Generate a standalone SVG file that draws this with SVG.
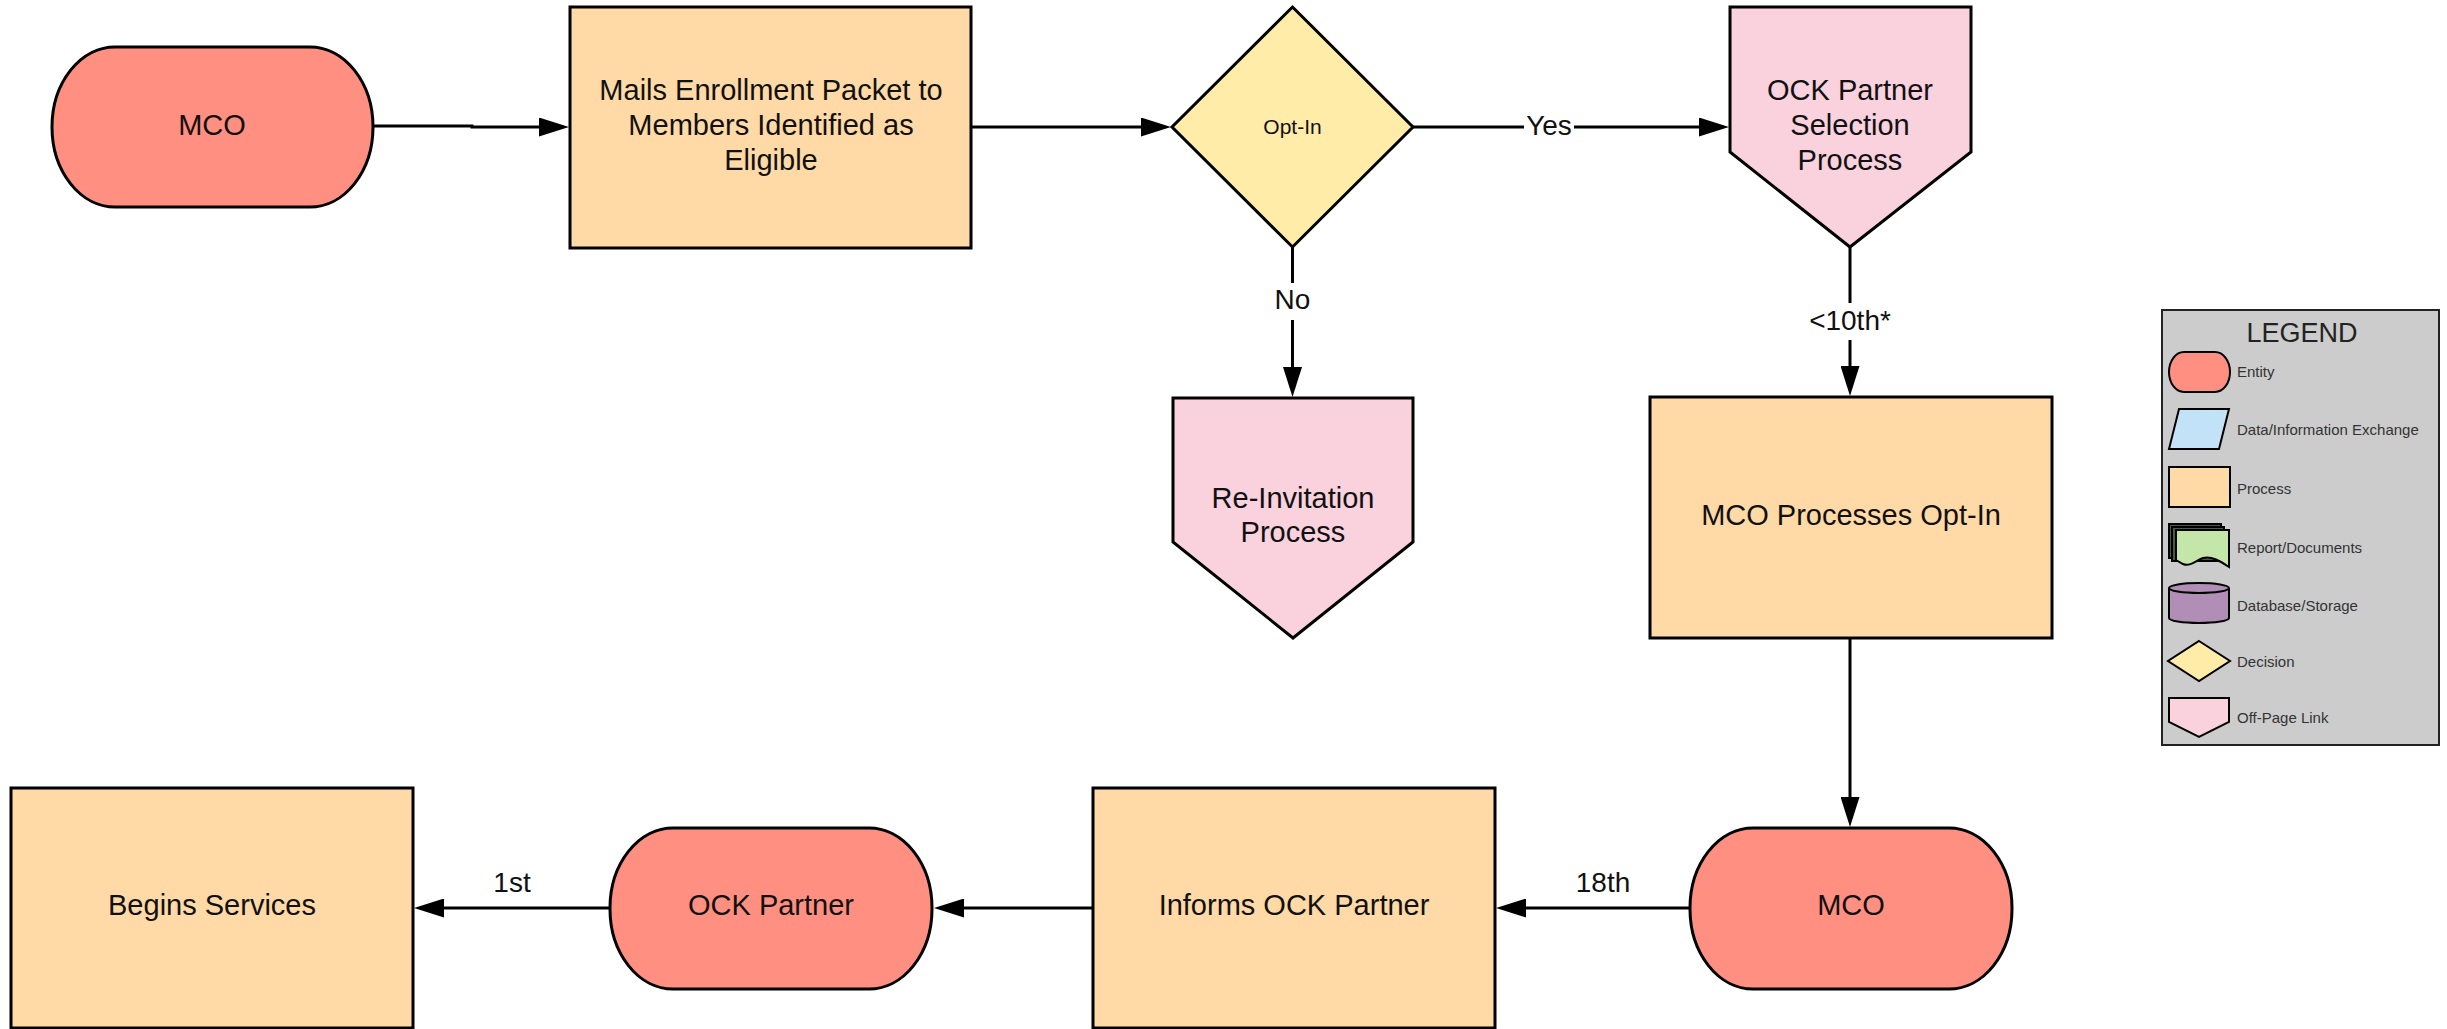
<svg xmlns="http://www.w3.org/2000/svg" width="2447" height="1029" viewBox="0 0 2447 1029">
  <style>
    .shape { stroke: #000; stroke-width: 3; stroke-linejoin: miter; }
    .entity { fill: #ff8f80; }
    .process { fill: #ffd9a6; }
    .decision { fill: #ffeca9; }
    .offpage { fill: #f9d2de; }
    .txt { font-family: "Liberation Sans", Arial, sans-serif; font-size: 29px; fill: #111; text-anchor: middle; dominant-baseline: central; }
    .lbl { font-family: "Liberation Sans", Arial, sans-serif; font-size: 28px; fill: #111; text-anchor: middle; dominant-baseline: central; }
    .small { font-size: 21px; }
    .conn { fill: none; stroke: #000; stroke-width: 3; }
    .lbg { fill: #fff; }
    .lgshape { stroke: #000; stroke-width: 2; }
    .lgtxt { font-family: "Liberation Sans", Arial, sans-serif; font-size: 15px; fill: #333; dominant-baseline: central; }
  </style>
  <defs>
    <marker id="arrow" viewBox="0 0 30 19" refX="1" refY="9.5" markerWidth="30" markerHeight="19" markerUnits="userSpaceOnUse" orient="auto">
      <path d="M0,0 L30,9.5 L0,19 Z" fill="#000"/>
    </marker>
  </defs>

  <g id="connectors">
    <path class="conn" d="M373,126 H472 V127 H540" marker-end="url(#arrow)"/>
    <path class="conn" d="M971,127 H1142" marker-end="url(#arrow)"/>
    <path class="conn" d="M1413,127 H1700" marker-end="url(#arrow)"/>
    <rect class="lbg" x="1524" y="110" width="50" height="32"/>
    <text class="lbl" x="1549" y="125">Yes</text>
    <path class="conn" d="M1292.5,247 V368" marker-end="url(#arrow)"/>
    <rect class="lbg" x="1274" y="283" width="37" height="37"/>
    <text class="lbl" x="1292.5" y="299">No</text>
    <path class="conn" d="M1850,247 V367" marker-end="url(#arrow)"/>
    <rect class="lbg" x="1805" y="303" width="90" height="37"/>
    <text class="lbl" x="1850" y="320">&lt;10th*</text>
    <path class="conn" d="M1850,638 V798" marker-end="url(#arrow)"/>
    <path class="conn" d="M1690,908 H1525" marker-end="url(#arrow)"/>
    <text class="lbl" x="1603" y="882">18th</text>
    <path class="conn" d="M1093,908 H963" marker-end="url(#arrow)"/>
    <path class="conn" d="M610,908 H443" marker-end="url(#arrow)"/>
    <text class="lbl" x="512" y="882">1st</text>
  </g>

  <g id="node-mco-top">
    <rect class="shape entity" x="52" y="47" width="321" height="160" rx="63" ry="80"/>
    <text class="txt" x="212" y="125">MCO</text>
  </g>

  <g id="node-mails">
    <rect class="shape process" x="570" y="7" width="401" height="241"/>
    <text class="txt" x="771" y="90">Mails Enrollment Packet to</text>
    <text class="txt" x="771" y="125">Members Identified as</text>
    <text class="txt" x="771" y="160">Eligible</text>
  </g>

  <g id="node-optin">
    <path class="shape decision" d="M1292.5,7 L1413,127 L1292.5,247 L1172,127 Z"/>
    <text class="txt small" x="1292.5" y="126">Opt-In</text>
  </g>

  <g id="node-ock-selection">
    <path class="shape offpage" d="M1730,7 H1971 V152 L1850,247 L1730,152 Z"/>
    <text class="txt" x="1850" y="90">OCK Partner</text>
    <text class="txt" x="1850" y="125">Selection</text>
    <text class="txt" x="1850" y="160">Process</text>
  </g>

  <g id="node-reinvitation">
    <path class="shape offpage" d="M1173,398 H1413 V542 L1293,638 L1173,542 Z"/>
    <text class="txt" x="1293" y="498">Re-Invitation</text>
    <text class="txt" x="1293" y="532">Process</text>
  </g>

  <g id="node-mco-processes">
    <rect class="shape process" x="1650" y="397" width="402" height="241"/>
    <text class="txt" x="1851" y="515">MCO Processes Opt-In</text>
  </g>

  <g id="node-mco-bottom">
    <rect class="shape entity" x="1690" y="828" width="322" height="161" rx="63" ry="80"/>
    <text class="txt" x="1851" y="905">MCO</text>
  </g>

  <g id="node-informs">
    <rect class="shape process" x="1093" y="788" width="402" height="240"/>
    <text class="txt" x="1294" y="905">Informs OCK Partner</text>
  </g>

  <g id="node-ock-partner">
    <rect class="shape entity" x="610" y="828" width="322" height="161" rx="63" ry="80"/>
    <text class="txt" x="771" y="905">OCK Partner</text>
  </g>

  <g id="node-begins">
    <rect class="shape process" x="11" y="788" width="402" height="240"/>
    <text class="txt" x="212" y="905">Begins Services</text>
  </g>

  <g id="legend">
    <rect x="2162" y="310" width="277" height="435" fill="#cccccc" stroke="#222" stroke-width="2"/>
    <text x="2302" y="333" font-family="Liberation Sans, Arial, sans-serif" font-size="27" fill="#222" text-anchor="middle" dominant-baseline="central">LEGEND</text>

    <rect class="lgshape entity" x="2169" y="352" width="61" height="40" rx="15" ry="20"/>
    <text class="lgtxt" x="2237" y="371">Entity</text>

    <polygon class="lgshape" fill="#c2e3f7" points="2179,409 2229,409 2219,449 2169,449"/>
    <text class="lgtxt" x="2237" y="429">Data/Information Exchange</text>

    <rect class="lgshape process" x="2169" y="467" width="61" height="40"/>
    <text class="lgtxt" x="2237" y="488">Process</text>

    <rect class="lgshape" fill="#4d5b3c" x="2169" y="524" width="52" height="34"/>
    <rect class="lgshape" fill="#4d5b3c" x="2172" y="527" width="52" height="34"/>
    <path class="lgshape" fill="#c4e6a9" d="M2176,530 H2229 V567 C2220,561 2212,556 2203,558 C2195,561 2190,567 2183,564 L2176,560 Z"/>
    <text class="lgtxt" x="2237" y="547">Report/Documents</text>

    <path class="lgshape" fill="#b08eb5" d="M2169,588 A30,5 0 0 1 2229,588 V618 A30,5 0 0 1 2169,618 Z"/>
    <path fill="none" stroke="#000" stroke-width="2" d="M2169,588 A30,5 0 0 0 2229,588"/>
    <text class="lgtxt" x="2237" y="605">Database/Storage</text>

    <polygon class="lgshape decision" points="2199,641 2230,661 2199,681 2168,661"/>
    <text class="lgtxt" x="2237" y="661">Decision</text>

    <path class="lgshape offpage" d="M2169,698 H2229 V722 L2199,737 L2169,722 Z"/>
    <text class="lgtxt" x="2237" y="717">Off-Page Link</text>
  </g>
</svg>
